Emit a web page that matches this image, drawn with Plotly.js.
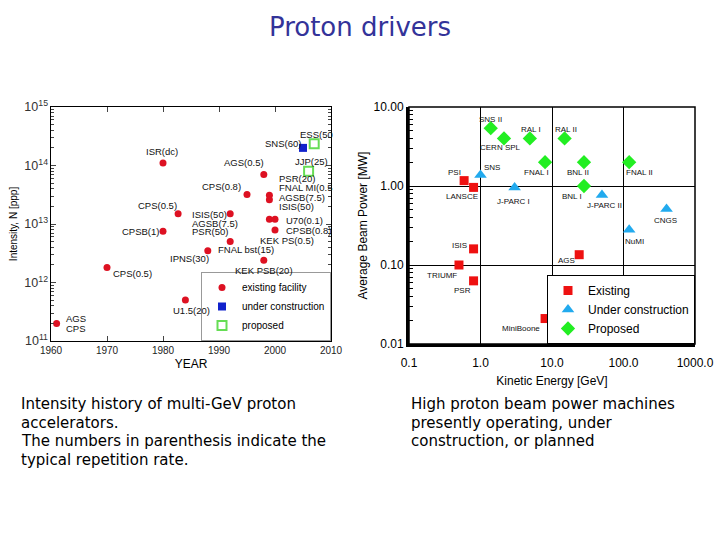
<!DOCTYPE html>
<html><head><meta charset="utf-8">
<script src="https://cdn.plot.ly/plotly-3.0.1.min.js"></script>
<style>body{margin:0;background:#fff}#chart{width:720px;height:540px}</style>
</head><body><div id="chart"></div>
<script>
// ---------- Left chart: intensity history ----------
const existingYear = [1961, 1970, 1980, 1980, 1982.7, 1984, 1988, 1992, 1992, 1995, 1998, 1999, 1999, 1999, 2000, 2000, 1998];
const existingIntensity = [2.0e11, 1.8e12, 7.5e12, 1.1e14, 1.5e13, 5.0e11, 3.5e12, 1.5e13, 5.0e12, 3.2e13, 7.0e13, 3.1e13, 2.6e13, 1.2e13, 1.2e13, 7.9e12, 2.4e12];
const constructionYear = [2005];
const constructionIntensity = [2.0e14];
const proposedYear = [2007, 2006];
const proposedIntensity = [2.35e14, 8.0e13];
const yearTicks = [1960, 1970, 1980, 1990, 2000, 2010];

// ---------- Right chart: beam power vs energy ----------
const existingNames = ['PSI', 'LANSCE', 'ISIS', 'TRIUMF', 'PSR', 'MiniBoone', 'AGS'];
const existingEnergy = [0.59, 0.8, 0.8, 0.5, 0.8, 8, 24];
const existingPower = [1.17, 0.96, 0.16, 0.1, 0.063, 0.021, 0.135];
const constrNames = ['SNS', 'J-PARC I', 'J-PARC II', 'CNGS', 'NuMI'];
const constrEnergy = [1.0, 3, 50, 400, 120];
const constrPower = [1.38, 0.96, 0.77, 0.51, 0.28];
const proposedNames = ['SNS II', 'CERN SPL', 'RAL I', 'RAL II', 'FNAL I', 'BNL II', 'FNAL II', 'BNL I'];
const proposedEnergy = [1.39, 2.13, 4.9, 15, 8, 28, 120, 28];
const proposedPower = [5.4, 4.0, 4.0, 4.0, 2.0, 2.0, 2.0, 1.0];

// caption texts
const leftCaption = ['Intensity history of multi-GeV proton', 'accelerators.', 'The numbers in parenthesis indicate the', 'typical repetition rate.'];
const rightCaption = ['High proton beam power machines', 'presently operating, under', 'construction, or planned'];

// label placement (year, log10 intensity, anchor)
const leftLabels = [
 ['ISR(dc)', 1979.8, 14.231, 'center'],
 ['CPS(0.5)', 1979.1, 13.313, 'center'],
 ['CPSB(1)', 1975.9, 12.880, 'center'],
 ['CPS(0.5)', 1974.6, 12.157, 'center'],
 ['AGS', 1962.3, 11.381, 'left'],
 ['CPS', 1962.3, 11.222, 'left'],
 ['U1.5(20)', 1985.0, 11.518, 'center'],
 ['IPNS(30)', 1984.8, 12.402, 'center'],
 ['FNAL bst(15)', 1994.8, 12.556, 'center'],
 ['KEK PSB(20)', 1998.0, 12.202, 'center'],
 ['ISIS(50)', 1984.8, 13.171, 'left'],
 ['AGSB(7.5)', 1984.8, 13.017, 'left'],
 ['PSR(50)', 1984.8, 12.880, 'left'],
 ['CPS(0.8)', 1990.4, 13.638, 'center'],
 ['AGS(0.5)', 1994.5, 14.048, 'center'],
 ['PSR(20)', 2000.4, 13.786, 'left'],
 ['FNAL MI(0.5', 2000.4, 13.621, 'left'],
 ['AGSB(7.5)', 2000.4, 13.456, 'left'],
 ['ISIS(50)', 2000.4, 13.291, 'left'],
 ['U70(0.1)', 2001.6, 13.056, 'left'],
 ['CPSB(0.8)', 2001.6, 12.885, 'left'],
 ['KEK PS(0.5)', 1997.0, 12.726, 'left'],
 ['SNS(60)', 1997.9, 14.368, 'left'],
 ['ESS(50', 2004.1, 14.538, 'left'],
 ['JJP(25)', 2003.2, 14.072, 'left']
];
// label placement (log10 energy, log10 power), centred
const rightLabelPos = {
 'PSI': [-0.357, 0.168], 'LANSCE': [-0.259, -0.135], 'ISIS': [-0.294, -0.759],
 'TRIUMF': [-0.538, -1.135], 'PSR': [-0.245, -1.325], 'MiniBoone': [0.566, -1.801],
 'AGS': [1.196, -0.946], 'SNS': [0.161, 0.232], 'J-PARC I': [0.4615, -0.190],
 'J-PARC II': [1.741, -0.253], 'CNGS': [2.587, -0.439], 'NuMI': [2.154, -0.705],
 'SNS II': [0.1427, 0.844], 'CERN SPL': [0.2727, 0.485], 'RAL I': [0.706, 0.718],
 'RAL II': [1.196, 0.718], 'FNAL I': [0.790, 0.165], 'BNL II': [1.364, 0.165],
 'FNAL II': [2.224, 0.165], 'BNL I': [1.280, -0.135]
};

const LF = 'Liberation Sans, Arial, sans-serif';
const CF = 'DejaVu Sans, sans-serif';
const traces = [
 {type:'scatter', mode:'markers', x:existingYear, y:existingIntensity, xaxis:'x', yaxis:'y', legend:'legend',
  name:'existing facility', marker:{color:'#dd1122', size:7}},
 {type:'scatter', mode:'markers', x:constructionYear, y:constructionIntensity, xaxis:'x', yaxis:'y', legend:'legend',
  name:'under construction', marker:{color:'#1122cc', size:8, symbol:'square'}},
 {type:'scatter', mode:'markers', x:proposedYear, y:proposedIntensity, xaxis:'x', yaxis:'y', legend:'legend',
  name:'proposed', marker:{color:'#66dd55', size:9, symbol:'square-open', line:{width:2, color:'#66dd55'}}},
 {type:'scatter', mode:'markers', x:existingEnergy, y:existingPower, text:existingNames, xaxis:'x2', yaxis:'y2', legend:'legend2',
  name:'Existing', marker:{color:'#ee1111', size:9, symbol:'square'}},
 {type:'scatter', mode:'markers', x:constrEnergy, y:constrPower, text:constrNames, xaxis:'x2', yaxis:'y2', legend:'legend2',
  name:'Under construction', marker:{color:'#22aaee', size:11, symbol:'triangle-up'}},
 {type:'scatter', mode:'markers', x:proposedEnergy, y:proposedPower, text:proposedNames, xaxis:'x2', yaxis:'y2', legend:'legend2',
  name:'Proposed', marker:{color:'#22ee22', size:11, symbol:'diamond'}}
];

const annotations = [];
leftLabels.forEach(l => annotations.push({xref:'x', yref:'y', x:l[1], y:l[2], text:l[0], showarrow:false,
  xanchor:l[3], yanchor:'middle', font:{family:LF, size:9.5, color:'#111'}}));
[].concat(existingNames, constrNames, proposedNames).forEach(n => {
  const p = rightLabelPos[n];
  annotations.push({xref:'x2', yref:'y2', x:p[0], y:p[1], text:n, showarrow:false,
   xanchor:'center', yanchor:'middle', font:{family:LF, size:8, color:'#111'}});
});
leftCaption.forEach((t, i) => annotations.push({xref:'paper', yref:'paper', x:19/720, y:1-(404+i*18.7)/540,
  xanchor:'left', yanchor:'middle', showarrow:false, text:t, font:{family:CF, size:15, color:'#000'}}));
rightCaption.forEach((t, i) => annotations.push({xref:'paper', yref:'paper', x:409/720, y:1-(404+i*18.7)/540,
  xanchor:'left', yanchor:'middle', showarrow:false, text:t, font:{family:CF, size:15, color:'#000'}}));

const layout = {
 width:720, height:540, margin:{l:0, r:0, t:0, b:0},
 paper_bgcolor:'#fff', plot_bgcolor:'#fff',
 font:{family:LF, color:'#000'},
 title:{text:'Proton drivers', x:0.5, xref:'paper', y:1-27/540, yref:'paper', yanchor:'middle',
  font:{family:CF, size:26, color:'#333399'}},
 showlegend:true,
 xaxis:{domain:[51/720, 331/720], anchor:'y', range:[1960, 2010], tickvals:yearTicks, ticks:'inside', ticklen:5,
  mirror:'ticks', showline:true, linecolor:'#000', linewidth:1, showgrid:false, zeroline:false,
  tickfont:{size:10, color:'#222'}, title:{text:'YEAR', font:{size:12}, standoff:4}},
 yaxis:{domain:[1-341/540, 1-107/540], anchor:'x', type:'log', range:[11, 15], dtick:1, exponentformat:'power',
  ticks:'inside', ticklen:5, mirror:'ticks', showline:true, linecolor:'#000', linewidth:1, showgrid:false, zeroline:false,
  minor:{ticks:'inside', ticklen:3, dtick:'D1', showgrid:false},
  tickfont:{size:10, color:'#333'}, title:{text:'Intensity, N [ppp]', font:{size:10}, standoff:4}},
 xaxis2:{domain:[409/720, 695/720], anchor:'y2', type:'log', range:[-1, 3], dtick:1, tickformat:'.1f',
  showgrid:true, gridcolor:'#000', gridwidth:1, showline:true, linecolor:'#000', linewidth:3, ticks:'', zeroline:false,
  ticklabelstandoff:6, tickfont:{size:12}, title:{text:'Kinetic Energy [GeV]', font:{size:12}, standoff:8}},
 yaxis2:{domain:[1-344/540, 1-107/540], anchor:'x2', type:'log', range:[-2, 1], dtick:1, tickformat:'.2f',
  showgrid:true, gridcolor:'#000', gridwidth:1, showline:true, linecolor:'#000', linewidth:3, ticks:'', zeroline:false,
  minor:{ticks:'inside', ticklen:4, dtick:'D1', showgrid:false, tickcolor:'#000'},
  tickfont:{size:12}, title:{text:'Average Beam Power [MW]', font:{size:12}, standoff:4}},
 legend:{x:331/720, xanchor:'right', y:1-341/540, yanchor:'bottom', bgcolor:'#fff', bordercolor:'#999', borderwidth:1,
  font:{size:10}, tracegroupgap:0, itemwidth:30},
 legend2:{x:695/720, xanchor:'right', y:1-344/540, yanchor:'bottom', bgcolor:'#fff', bordercolor:'#000', borderwidth:1,
  font:{size:12}, tracegroupgap:0, itemwidth:30},
 shapes:[{type:'rect', xref:'x2 domain', yref:'y2 domain', x0:0, x1:1, y0:0, y1:1, line:{color:'#000', width:1.5}}],
 annotations:annotations
};
Plotly.newPlot('chart', traces, layout, {displayModeBar:false, staticPlot:true});
</script></body></html>
